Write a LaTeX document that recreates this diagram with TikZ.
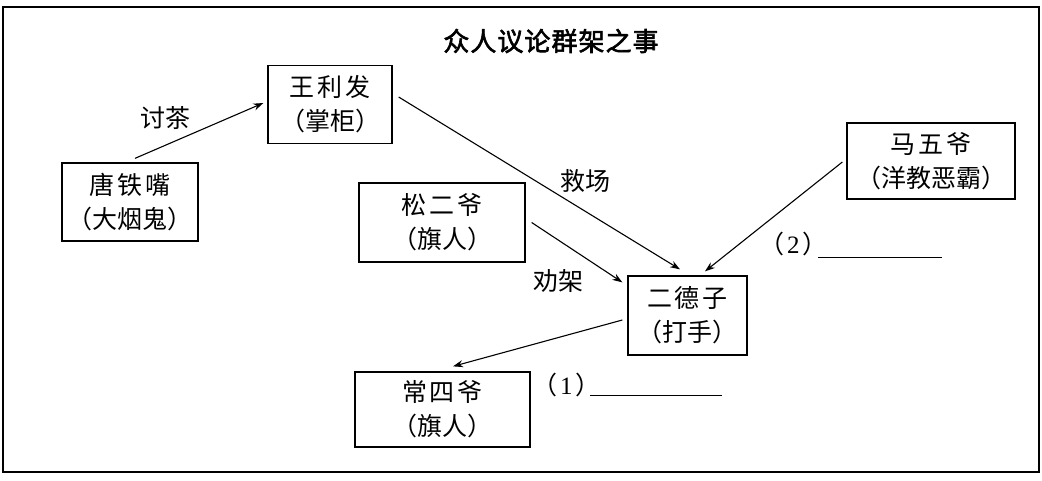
\documentclass[tikz,border=0pt]{standalone}
\usepackage{fontspec}
\setmainfont{Liberation Serif}
\newfontfamily\cjk{Noto Sans CJK SC}
\newfontfamily\cjkw[LetterSpace=12]{Noto Sans CJK SC}
\newfontfamily\cjkt[FakeBold=2.2,LetterSpace=4]{Noto Sans CJK SC}
\usetikzlibrary{arrows.meta}
\begin{document}
\begin{tikzpicture}[x=1pt,y=-1pt,
  person/.style={draw, line width=1.3pt, inner sep=0pt, align=center, font=\cjk\fontsize{25}{34}\selectfont},
  arr/.style={line width=1.1pt, -{Stealth[length=10pt,width=7pt]}},
  lbl/.style={font=\cjk\fontsize{25}{28}\selectfont, inner sep=0pt}]
\useasboundingbox (0,0) rectangle (1042,480);
\draw[line width=1.6pt] (3,7) rectangle (1039,472);
\node[font=\cjkt\fontsize{26}{30}\selectfont] (title) at (551,41) {众人议论群架之事};
\node[person, minimum width=124pt, minimum height=78pt] (wang) at (330,104.5) {{\cjkw 王利发}\\（掌柜）};
\node[person, minimum width=136pt, minimum height=78pt] (tang) at (130,202) {{\cjkw 唐铁嘴}\\（大烟鬼）};
\node[person, minimum width=166pt, minimum height=79pt] (song) at (442,222.5) {{\cjkw 松二爷}\\（旗人）};
\node[person, minimum width=119pt, minimum height=79pt] (erde) at (687.5,315.5) {{\cjkw 二德子}\\（打手）};
\node[person, minimum width=175pt, minimum height=75pt] (chang) at (442.5,409.5) {{\cjkw 常四爷}\\（旗人）};
\node[person, minimum width=168pt, minimum height=76pt] (ma) at (931,161) {{\cjkw 马五爷}\\（洋教恶霸）};
\draw[arr] ([xshift=5pt,yshift=4pt]tang.north) -- ([xshift=-4pt,yshift=1.5pt]wang.west);
\draw[arr] ([xshift=6pt,yshift=7.5pt]wang.east) -- ([xshift=-7.5pt,yshift=6pt]erde.north);
\draw[arr] ([xshift=6pt]song.east) -- ([xshift=-5pt,yshift=-7pt]erde.north west);
\draw[arr] ([xshift=-4pt,yshift=-1pt]ma.west) -- ([xshift=17.5pt,yshift=4pt]erde.north);
\draw[arr] ([xshift=-5pt,yshift=-4.5pt]erde.west) -- ([xshift=10.5pt,yshift=5pt]chang.north);
\node[lbl] (l1) at (165,118) {讨茶};
\node[lbl] (l2) at (585,181) {救场};
\node[lbl] (l3) at (558,281) {劝架};
\node[font=\fontsize{25}{28}\selectfont, inner sep=0pt, anchor=west] (q1) at (532,385) {{\cjk （}\hspace{3pt}1\hspace{3pt}{\cjk ）}};
\coordinate (q1s) at (590,395);
\coordinate (q1e) at (722,395);
\draw[line width=1pt] (q1s) -- (q1e);
\node[font=\fontsize{25}{28}\selectfont, inner sep=0pt, anchor=west] (q2) at (759,244) {{\cjk （}\hspace{3pt}2\hspace{3pt}{\cjk ）}};
\coordinate (q2s) at (818,257);
\coordinate (q2e) at (942,257);
\draw[line width=1pt] (q2s) -- (q2e);
\end{tikzpicture}
\end{document}
